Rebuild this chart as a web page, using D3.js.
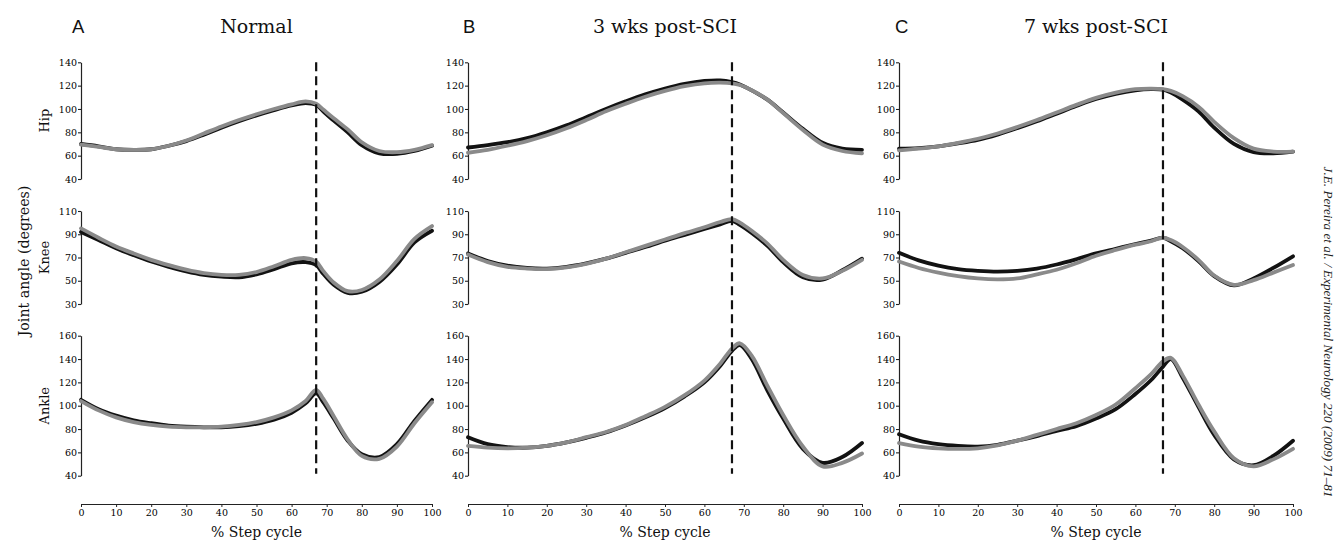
<!DOCTYPE html>
<html><head><meta charset="utf-8">
<script src="https://cdn.jsdelivr.net/npm/d3@7/dist/d3.min.js"></script>
<style>body{margin:0;background:#fff}svg{display:block}</style>
</head><body>
<svg id="chart" width="1335" height="542"></svg>
<script>
// ---------- data ----------
const stepPct = [0,5,10,15,20,25,30,35,40,45,50,55,60,64,67,69,72,76,80,85,90,95,100];
const panelTitles = ["Normal", "3 wks post-SCI", "7 wks post-SCI"];
const panelLetters = ["A", "B", "C"];
const jointNames = ["Hip", "Knee", "Ankle"];
const hipTicks = [40, 60, 80, 100, 120, 140];
const kneeTicks = [30, 50, 70, 90, 110];
const ankleTicks = [40, 60, 80, 100, 120, 140, 160];
const xTicks = [0, 10, 20, 30, 40, 50, 60, 70, 80, 90, 100];
const toeOffPct = 67;
const yAxisTitle = "Joint angle (degrees)";
const xAxisTitle = "% Step cycle";
const citation = "J.E. Pereira et al. / Experimental Neurology 220 (2009) 71–81";

// Normal
const normalHipBlack  = [70,68,65.5,65,65.5,68.5,72.5,78,84,89.5,94.5,99,103,105,103.5,98,90,80,69,62,61.5,64,68.5];
const normalHipGrey   = [69.5,67.5,65.5,65,65.5,68.5,73,79,85,90.5,95.5,100,104,106.5,104.5,99.5,92,82.5,71.5,64,63,65,69];
const normalKneeBlack = [92,85,78,72,66.5,62,58,55,53.5,53,55.5,60,65,66,63.5,56,46.5,39.5,40.5,49,64,83,93];
const normalKneeGrey  = [95,87,79.5,73.5,68,63.5,59.5,56.5,55,55,57.5,62.5,68,69.5,66.5,58.5,48.5,41,42,51,67,86,97];
const normalAnkleBlack= [105,97,91.5,87.5,85,83,82,81.5,81.5,82.5,84.5,88,94,102,110.5,103,89,70,58.5,56,67,87,105];
const normalAnkleGrey = [104,96,90,86,83.5,82,81.5,81.5,82,83.5,86,90,96,104,113.5,106,91,71,57,54.5,65,85,103];
// 3 wks post-SCI
const wk3HipBlack   = [67,69,71.5,75,80,86,93,100,106.5,112.5,117.5,121.5,124,124.5,123,121,116,108,97,83,71,66,65];
const wk3HipGrey    = [62.5,65,68.5,72.5,77.5,83.5,90.5,98,104.5,110.5,115.5,119.5,122,122.5,122,120.5,116,108,96.5,82,69.5,64,62];
const wk3KneeBlack  = [73.5,67,63,61,60.5,62,65,69,74,79,84.5,89.5,94.5,98.5,101.5,98,91,80,66,53,51,59,69];
const wk3KneeGrey   = [72.5,66,62,60.5,60,61.5,64.5,69,74.5,80,85.5,91,96,100.5,103,100,93,82,68,55,52,58.5,68];
const wk3AnkleBlack = [73,67,64.5,64,65.5,68.5,72.5,77,83,90,98,108,120,134,147,152,140,113,89,63,51,56,68];
const wk3AnkleGrey  = [65.5,64,63.5,64,65.5,68.5,73,77.5,83.5,91,99,109,121.5,136,149,153.5,143,117,92,65,48,51,59];
// 7 wks post-SCI
const wk7HipBlack   = [66,66.5,68,70.5,73.5,78,83.5,89.5,96,102.5,108.5,113,116,117,116.5,114,108,98,84,70,63,62,63.5];
const wk7HipGrey    = [64.5,66,68,71,74.5,79,84.5,90.5,97,103.5,109.5,114,117,117.5,117,115.5,111,102,89,75,66,63.5,63.5];
const wk7KneeBlack  = [74,67.5,63,60,58.5,57.8,58.5,60.5,64,68.5,73.5,77.5,81.5,84.5,87,84,78,67,54,46,52,61,71];
const wk7KneeGrey   = [66.5,61,57,54,52,51.2,52,55.5,59.5,65,71.5,76.5,81,84,87,85,79,68,54.5,46.5,50.5,57,63.5];
const wk7AnkleBlack = [75.5,70,67,65.5,65,66.5,70,74,78.5,82.5,89,97,110,122,133.5,140,124,99,75,54,49,57,70];
const wk7AnkleGrey  = [68,65,63.5,63,63.5,66,70,75,80,85,92,101,115,127,138,141,126,101,78,55,48,54,63];

// ---------- build ----------
const seriesByPanel = [
  [[normalHipBlack, normalHipGrey], [normalKneeBlack, normalKneeGrey], [normalAnkleBlack, normalAnkleGrey]],
  [[wk3HipBlack, wk3HipGrey], [wk3KneeBlack, wk3KneeGrey], [wk3AnkleBlack, wk3AnkleGrey]],
  [[wk7HipBlack, wk7HipGrey], [wk7KneeBlack, wk7KneeGrey], [wk7AnkleBlack, wk7AnkleGrey]]
];
const rowTicks = [hipTicks, kneeTicks, ankleTicks];

const panelX = [[81, 432], [468, 862], [899, 1293]];
const rowY = [[179, 62.3], [304, 211], [475.7, 335.7]];
const xAxisY = 504;
const letterX = [72, 463, 895];
const serif = "'DejaVu Serif', serif";
const lineColors = ["#121212", "#8a8a8a"];

const svg = d3.select("#chart");

panelTitles.forEach((title, p) => {
  const x = d3.scaleLinear().domain([0, 100]).range(panelX[p]);
  const g = svg.append("g");

  g.append("text").attr("x", letterX[p]).attr("y", 33)
    .attr("font-family", "'Liberation Sans', Arial, sans-serif").attr("font-size", 18.5)
    .attr("fill", "#111").text(panelLetters[p]);
  g.append("text").attr("x", (panelX[p][0] + panelX[p][1]) / 2).attr("y", 33)
    .attr("text-anchor", "middle").attr("font-family", serif).attr("font-size", 19)
    .attr("fill", "#111").text(title);

  rowTicks.forEach((ticks, r) => {
    const y = d3.scaleLinear().domain(d3.extent(ticks)).range(rowY[r]);
    const ax = g.append("g").attr("transform", `translate(${panelX[p][0]},0)`)
      .call(d3.axisLeft(y).tickValues(ticks).tickSize(3).tickSizeOuter(0).tickPadding(1).tickFormat(d3.format("d")));
    ax.select(".domain").attr("stroke", "#222").attr("stroke-width", 1.2);
    ax.selectAll(".tick line").attr("stroke", "#222").attr("stroke-width", 1.1);
    ax.selectAll("text").attr("font-family", serif).attr("font-size", 9.5).attr("fill", "#000");

    if (p === 0) {
      const cy = (rowY[r][0] + rowY[r][1]) / 2;
      g.append("text").attr("transform", `translate(49,${cy}) rotate(-90)`)
        .attr("text-anchor", "middle").attr("font-family", serif).attr("font-size", 13)
        .attr("fill", "#111").text(jointNames[r]);
    }

    const line = d3.line().x((d, i) => x(stepPct[i])).y(d => y(d)).curve(d3.curveCatmullRom.alpha(0.5));
    const pair = seriesByPanel[p][r];
    [0, 1].forEach(k => {
      g.append("path").datum(pair[k]).attr("d", line)
        .attr("fill", "none").attr("stroke", lineColors[k])
        .attr("stroke-width", 3.8).attr("stroke-linejoin", "round").attr("stroke-linecap", "round");
    });
  });

  g.append("line").attr("x1", x(toeOffPct)).attr("x2", x(toeOffPct))
    .attr("y1", rowY[0][1]).attr("y2", rowY[2][0] - 2)
    .attr("stroke", "#111").attr("stroke-width", 2.2).attr("stroke-dasharray", "9,5");

  const xa = g.append("g").attr("transform", `translate(0,${xAxisY})`)
    .call(d3.axisBottom(x).tickValues(xTicks).tickSize(3).tickSizeOuter(0).tickPadding(2));
  xa.select(".domain").attr("stroke", "#222").attr("stroke-width", 1.2);
  xa.selectAll(".tick line").attr("stroke", "#222");
  xa.selectAll("text").attr("font-family", serif).attr("font-size", 9.5).attr("fill", "#000");
  g.append("text").attr("x", (panelX[p][0] + panelX[p][1]) / 2).attr("y", 537)
    .attr("text-anchor", "middle").attr("font-family", serif).attr("font-size", 14)
    .attr("fill", "#111").text(xAxisTitle);
});

svg.append("text").attr("transform", "translate(29,261) rotate(-90)")
  .attr("text-anchor", "middle").attr("font-family", serif).attr("font-size", 14.2)
  .attr("fill", "#111").text(yAxisTitle);

svg.append("text").attr("transform", "translate(1324,332) rotate(90)")
  .attr("text-anchor", "middle").attr("font-family", "'Liberation Serif', serif")
  .attr("font-style", "italic").attr("font-size", 13.2)
  .attr("fill", "#222").text(citation);
</script>
</body></html>
